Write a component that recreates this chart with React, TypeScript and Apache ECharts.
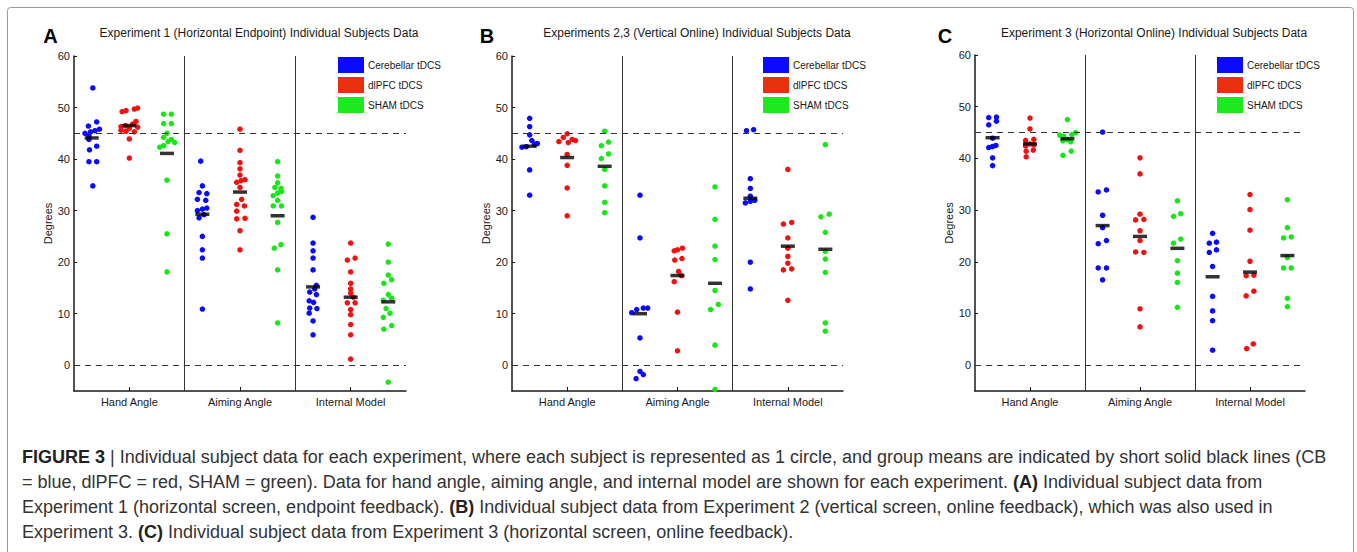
import React, { useEffect, useRef } from "react";
import * as echarts from "echarts";

// ---------- DATA ----------
const MEASURES = ["Hand Angle", "Aiming Angle", "Internal Model"];
const GROUPS = ["Cerebellar tDCS", "dlPFC tDCS", "SHAM tDCS"];
const TITLES = [
  "Experiment 1 (Horizontal Endpoint) Individual Subjects Data",
  "Experiments 2,3 (Vertical Online) Individual Subjects Data",
  "Experiment 3 (Horizontal Online) Individual Subjects Data",
];
const LETTERS = ["A", "B", "C"];
const Y_TICKS = [0, 10, 20, 30, 40, 50, 60];
const X_TICKS = [0.5, 1.5, 2.5];
const REF_LINES = [45, 0];
const SEPARATORS = [1, 2];

// each point: [degrees, horizontal jitter (axis units)]
const A_HAND_CB = [[53.8, 0.01], [47.2, 0.045], [46.4, -0.03], [45.8, 0.07], [45.5, 0.03], [45.3, -0.01], [45.0, -0.06], [44.5, -0.025], [43.8, -0.025], [42.5, 0.045], [41.8, -0.02], [39.5, -0.025], [39.5, 0.045], [34.8, 0.01]];
const A_HAND_DL = [[49.9, 0.075], [49.7, 0.045], [49.4, -0.03], [49.2, -0.065], [47.3, 0.06], [46.8, 0.03], [46.5, -0.035], [46.3, -0.075], [46.2, 0.075], [46.0, 0.0], [45.6, -0.075], [45.4, -0.03], [45.3, 0.045], [43.9, 0.0], [40.2, 0.0]];
const A_HAND_SH = [[48.7, -0.03], [48.7, 0.04], [46.9, -0.03], [46.9, 0.04], [45.0, 0.0], [44.2, -0.03], [43.8, 0.04], [43.4, 0.01], [43.2, 0.07], [42.6, -0.03], [42.3, -0.065], [35.9, 0], [25.5, 0], [18.1, 0]];
const A_AIM_CB = [[39.6, -0.015], [34.8, 0], [33.5, -0.03], [33.3, 0.04], [32.2, -0.045], [32.0, 0.03], [30.5, 0.04], [30.3, 0], [30.0, -0.045], [29.2, 0.015], [28.6, -0.03], [25.0, 0], [22.4, 0], [20.8, 0], [10.9, 0]];
const A_AIM_DL = [[45.8, 0], [41.7, 0], [39.3, 0], [38.1, 0], [36.9, 0], [36.0, 0.045], [35.8, 0.01], [35.5, -0.03], [34.5, 0], [32.2, 0.015], [31.2, -0.03], [30.9, 0.04], [29.9, -0.03], [28.5, 0.045], [28.4, -0.03], [26.1, 0], [22.4, 0]];
const A_AIM_SH = [[39.5, 0], [36.7, 0], [35.4, 0], [34.5, -0.025], [34.3, 0.03], [33.7, 0.035], [33.4, 0], [32.9, -0.04], [32.0, 0], [30.9, -0.04], [30.9, 0.035], [27.7, 0], [23.4, 0.03], [22.7, -0.03], [18.5, 0], [8.2, 0]];
const A_MOD_CB = [[28.7, 0], [23.7, 0], [22.2, 0], [20.8, 0], [18.5, 0], [15.5, 0.03], [14.8, 0.015], [14.2, -0.03], [13.7, 0.03], [12.5, -0.035], [12.2, 0.005], [11.1, -0.03], [11.0, 0.035], [10.1, -0.035], [8.6, 0], [5.9, 0]];
const A_MOD_DL = [[23.7, 0], [20.8, 0.04], [20.4, -0.03], [18.1, 0], [15.9, 0], [14.8, 0], [14.0, 0], [13.2, 0.025], [12.1, -0.03], [12.1, 0.04], [10.8, 0], [9.8, 0], [7.9, 0], [5.9, 0], [1.2, 0]];
const A_MOD_SH = [[23.5, 0], [20.0, 0], [17.5, 0], [16.6, 0.03], [15.9, -0.04], [13.7, 0], [13.0, 0.03], [12.6, -0.045], [11.0, -0.02], [10.1, 0.015], [9.3, -0.045], [7.7, 0.03], [7.0, -0.04], [-3.3, 0]];
const A_MEAN_CB = [44.1, 29.3, 15.2];
const A_MEAN_DL = [46.5, 33.6, 13.2];
const A_MEAN_SH = [41.1, 29.0, 12.3];

const B_HAND_CB = [[47.9, 0], [46.3, 0], [44.7, 0], [43.6, 0.02], [43.0, 0.07], [42.9, 0.045], [42.4, -0.03], [42.3, -0.07], [37.9, 0], [33.0, 0]];
const B_HAND_DL = [[44.9, 0], [44.2, -0.035], [43.8, 0.045], [43.6, 0.075], [43.4, -0.075], [43.2, 0.01], [40.9, 0], [38.8, 0], [34.4, 0], [29.0, 0]];
const B_HAND_SH = [[45.4, 0], [43.3, 0.035], [42.6, -0.03], [41.0, 0.035], [40.1, -0.03], [38.0, 0], [34.8, 0], [31.6, 0], [29.6, 0]];
const B_AIM_CB = [[33.0, 0], [24.7, 0], [11.1, 0.07], [11.1, 0.03], [10.8, -0.03], [10.2, -0.075], [5.3, 0], [-1.2, 0], [-1.8, 0.03], [-2.6, -0.035]];
const B_AIM_DL = [[22.7, 0.045], [22.4, 0], [22.2, -0.03], [20.7, 0.04], [20.4, -0.025], [18.2, 0.01], [17.4, 0.035], [16.2, -0.03], [10.3, 0], [2.8, 0]];
const B_AIM_SH = [[34.6, 0], [28.3, 0], [23.1, 0], [20.5, 0], [14.5, 0], [11.8, 0.03], [10.8, -0.04], [3.9, 0], [-4.7, 0]];
const B_MOD_CB = [[45.7, 0.03], [45.5, -0.035], [36.2, 0], [34.3, 0], [32.8, 0], [32.0, 0.04], [31.8, 0], [31.5, -0.045], [20.0, 0], [14.8, 0]];
const B_MOD_DL = [[38.0, 0], [27.7, 0.035], [27.4, -0.04], [24.7, 0], [22.7, 0], [21.1, 0], [19.8, 0], [18.7, 0.035], [18.5, -0.04], [12.6, 0]];
const B_MOD_SH = [[42.8, 0], [29.3, 0.035], [28.8, -0.04], [25.8, 0], [22.1, 0], [20.6, 0], [18.0, 0], [8.2, 0], [6.6, 0]];
const B_MEAN_CB = [42.5, 10.0, 32.4];
const B_MEAN_DL = [40.3, 17.4, 23.1];
const B_MEAN_SH = [38.6, 15.9, 22.5];

const C_HAND_CB = [[48.0, 0.035], [47.9, -0.035], [47.2, 0.035], [46.5, -0.035], [43.9, 0], [42.5, 0.03], [42.3, 0], [42.1, -0.035], [40.1, 0], [38.6, 0]];
const C_HAND_DL = [[47.8, 0], [45.7, 0], [43.7, 0.035], [43.5, -0.04], [42.8, 0], [42.6, 0.035], [42.4, -0.04], [41.6, 0.03], [41.4, -0.035], [40.3, -0.035]];
const C_HAND_SH = [[47.5, 0], [45.0, 0.075], [44.6, 0.04], [44.5, -0.07], [44.3, -0.035], [43.6, 0], [43.4, -0.04], [43.2, 0.03], [41.4, 0.035], [40.6, -0.04]];
const C_AIM_CB = [[45.1, 0], [33.9, 0.035], [33.5, -0.04], [29.0, 0], [26.6, 0], [24.1, 0.035], [23.5, -0.04], [18.8, -0.04], [18.8, 0.035], [16.5, 0]];
const C_AIM_DL = [[40.1, 0], [37.0, 0], [29.2, 0], [28.2, 0.035], [28.1, -0.04], [26.0, 0], [24.1, 0], [21.9, -0.04], [21.8, 0.035], [10.9, 0], [7.4, 0]];
const C_AIM_SH = [[31.8, 0], [29.3, 0.03], [28.8, -0.035], [24.4, 0.03], [23.6, -0.035], [20.2, 0], [17.8, 0], [16.0, 0], [11.2, 0]];
const C_MOD_CB = [[25.5, 0], [23.8, 0.035], [23.6, -0.03], [22.3, 0.035], [21.8, -0.03], [19.1, 0], [13.3, 0], [10.5, 0], [8.6, 0], [2.9, 0]];
const C_MOD_DL = [[33.0, 0], [30.1, 0], [26.1, 0], [20.1, 0], [17.4, 0.035], [17.3, -0.035], [14.3, 0.035], [13.4, -0.035], [4.1, 0.03], [3.2, -0.03]];
const C_MOD_SH = [[32.0, 0], [26.6, 0], [24.8, 0.035], [24.6, -0.035], [20.8, 0], [18.8, -0.035], [18.8, 0.035], [12.9, 0], [11.3, 0]];
const C_MEAN_CB = [44.0, 27.0, 17.1];
const C_MEAN_DL = [42.8, 24.9, 18.0];
const C_MEAN_SH = [43.8, 22.6, 21.2];

const CAPTION_LINES = [
  "{b|FIGURE 3} | Individual subject data for each experiment, where each subject is represented as 1 circle, and group means are indicated by short solid black lines (CB",
  "= blue, dlPFC = red, SHAM = green). Data for hand angle, aiming angle, and internal model are shown for each experiment. {b|(A)} Individual subject data from",
  "Experiment 1 (horizontal screen, endpoint feedback). {b|(B)} Individual subject data from Experiment 2 (vertical screen, online feedback), which was also used in",
  "Experiment 3. {b|(C)} Individual subject data from Experiment 3 (horizontal screen, online feedback).",
];

// ---------- STYLE / LAYOUT ----------
const FONT = "'Liberation Sans', Arial, Helvetica, sans-serif";
const POINT_COLORS = ["#0a0aff", "#f50f0f", "#16e816"];
const LEGEND_COLORS = ["#0a0aff", "#e8300e", "#1ee81e"];
const GROUP_OFFSETS = [-0.34, 0, 0.34];
const AXIS_COLOR = "#1a1a1a";

const PANEL_LAYOUT = [
  { left: 74, top: 56, width: 332, height: 335, legendLeft: 338, legendTop: 57, titleX: 259, letterX: 50.5 },
  { left: 512, top: 56, width: 331, height: 335, legendLeft: 763, legendTop: 57, titleX: 697, letterX: 487 },
  { left: 975, top: 55, width: 330, height: 336, legendLeft: 1217, legendTop: 57, titleX: 1154, letterX: 945 },
];

const PANEL_POINTS = [
  [[A_HAND_CB, A_AIM_CB, A_MOD_CB], [A_HAND_DL, A_AIM_DL, A_MOD_DL], [A_HAND_SH, A_AIM_SH, A_MOD_SH]],
  [[B_HAND_CB, B_AIM_CB, B_MOD_CB], [B_HAND_DL, B_AIM_DL, B_MOD_DL], [B_HAND_SH, B_AIM_SH, B_MOD_SH]],
  [[C_HAND_CB, C_AIM_CB, C_MOD_CB], [C_HAND_DL, C_AIM_DL, C_MOD_DL], [C_HAND_SH, C_AIM_SH, C_MOD_SH]],
];
const PANEL_MEANS = [
  [A_MEAN_CB, A_MEAN_DL, A_MEAN_SH],
  [B_MEAN_CB, B_MEAN_DL, B_MEAN_SH],
  [C_MEAN_CB, C_MEAN_DL, C_MEAN_SH],
];

function buildOption() {
  const grid: any[] = [];
  const xAxis: any[] = [];
  const yAxis: any[] = [];
  const legend: any[] = [];
  const series: any[] = [];
  const graphic: any[] = [];

  PANEL_LAYOUT.forEach((p, i) => {
    grid.push({ left: p.left, top: p.top, width: p.width, height: p.height, containLabel: false });
    xAxis.push({
      type: "value",
      gridIndex: i,
      min: 0,
      max: 3,
      splitLine: { show: false },
      axisLine: { show: true, onZero: false, lineStyle: { color: AXIS_COLOR, width: 1.5 } },
      axisTick: { show: true, inside: true, length: 4, customValues: X_TICKS, lineStyle: { color: AXIS_COLOR, width: 1 } },
      axisLabel: {
        customValues: X_TICKS,
        formatter: (v: number) => MEASURES[Math.floor(v)] || "",
        fontSize: 11,
        color: "#1a1a1a",
        fontFamily: FONT,
        margin: 5,
      },
    });
    yAxis.push({
      type: "value",
      gridIndex: i,
      min: -5,
      max: 60,
      splitLine: { show: false },
      axisLine: { show: true, lineStyle: { color: AXIS_COLOR, width: 1.5 } },
      axisTick: { show: true, inside: true, length: 3, customValues: Y_TICKS, lineStyle: { color: AXIS_COLOR, width: 1 } },
      axisLabel: { customValues: Y_TICKS, fontSize: 11, color: "#1a1a1a", fontFamily: FONT, margin: 4 },
      name: "Degrees",
      nameLocation: "middle",
      nameGap: 21,
      nameTextStyle: { fontSize: 11, color: "#1a1a1a", fontFamily: FONT },
    });
    legend.push({
      left: p.legendLeft,
      top: p.legendTop,
      orient: "vertical",
      icon: "rect",
      itemWidth: 26,
      itemHeight: 16,
      itemGap: 4,
      padding: 0,
      selectedMode: false,
      textStyle: { fontSize: 10, color: "#1a1a1a", fontFamily: FONT, padding: [0, 0, 0, -1] },
      data: GROUPS.map((g, k) => ({ name: g, itemStyle: { color: LEGEND_COLORS[k] } })),
    });

    GROUPS.forEach((g, gi) => {
      const pts: number[][] = [];
      PANEL_POINTS[i][gi].forEach((arr, mi) => {
        arr.forEach(([v, j]) => pts.push([mi + 0.5 + GROUP_OFFSETS[gi] + j, v]));
      });
      series.push({
        type: "scatter",
        name: g,
        xAxisIndex: i,
        yAxisIndex: i,
        symbol: "circle",
        symbolSize: 5.5,
        itemStyle: { color: POINT_COLORS[gi], opacity: 1 },
        data: pts,
        z: 3,
      });
    });

    const meanPts: number[][] = [];
    PANEL_MEANS[i].forEach((arr, gi) => {
      arr.forEach((m, mi) => meanPts.push([mi + 0.5 + GROUP_OFFSETS[gi], m]));
    });
    series.push({
      type: "scatter",
      name: "mean",
      xAxisIndex: i,
      yAxisIndex: i,
      symbol: "rect",
      symbolSize: [14, 3.5],
      itemStyle: { color: "#000" },
      data: meanPts,
      z: 5,
      markLine: {
        silent: true,
        symbol: ["none", "none"],
        label: { show: false },
        data: [
          ...REF_LINES.map((y) => ({ yAxis: y, lineStyle: { color: "#333", width: 1, type: [6, 5] } })),
          ...SEPARATORS.map((x) => ({ xAxis: x, lineStyle: { color: "#333", width: 1, type: "solid" } })),
        ],
      },
    });

    graphic.push({
      type: "text",
      x: p.titleX,
      y: 33,
      style: { text: TITLES[i], fontSize: 12, fontFamily: FONT, fill: "#1a1a1a", textAlign: "center", textVerticalAlign: "middle" },
    });
    graphic.push({
      type: "text",
      x: p.letterX,
      y: 36,
      style: { text: LETTERS[i], fontSize: 20, fontWeight: "bold", fontFamily: FONT, fill: "#000", textAlign: "center", textVerticalAlign: "middle" },
    });
  });

  graphic.push({
    type: "rect",
    shape: { x: 7.5, y: 7.5, width: 1346, height: 600, r: 3 },
    style: { fill: "none", stroke: "#9a9a9a", lineWidth: 1 },
    silent: true,
  });

  CAPTION_LINES.forEach((line, k) => {
    graphic.push({
      type: "text",
      x: 22,
      y: 457 + k * 25,
      style: {
        text: line,
        fontSize: 18,
        fontFamily: FONT,
        fill: "#333",
        textVerticalAlign: "middle",
        rich: { b: { fontWeight: "bold", fontSize: 18, fontFamily: FONT, fill: "#222" } },
      },
    });
  });

  return {
    animation: false,
    backgroundColor: "#fff",
    grid,
    xAxis,
    yAxis,
    legend,
    series,
    graphic,
  };
}

export default function App() {
  const ref = useRef<HTMLDivElement>(null);
  useEffect(() => {
    if (!ref.current) return;
    const chart = echarts.init(ref.current, undefined, { renderer: "svg" });
    chart.setOption(buildOption() as any);
    return () => chart.dispose();
  }, []);
  return <div ref={ref} style={{ position: "absolute", left: 0, top: 0, width: 1357, height: 552, background: "#fff" }} />;
}
